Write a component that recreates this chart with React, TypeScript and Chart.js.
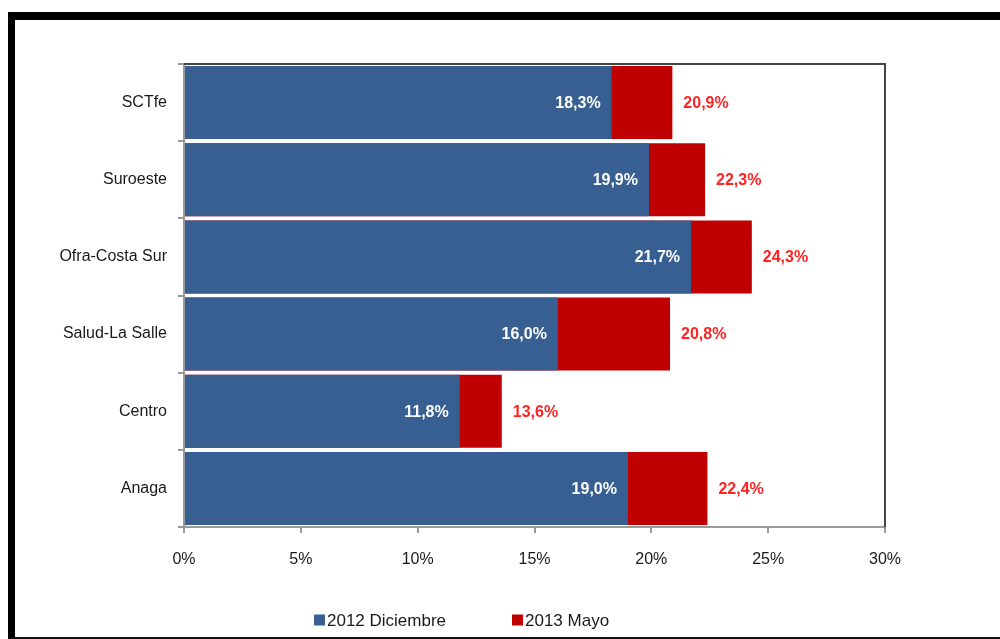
import React, { useEffect, useRef } from "react";
import { Chart, registerables } from "chart.js";

Chart.register(...registerables);

const categories = ["SCTfe", "Suroeste", "Ofra-Costa Sur", "Salud-La Salle", "Centro", "Anaga"];
const serie2012 = [18.3, 19.9, 21.7, 16.0, 11.8, 19.0];
const serie2013 = [20.9, 22.3, 24.3, 20.8, 13.6, 22.4];
const seriesNames = ["2012 Diciembre", "2013 Mayo"];
const xTicks = [0, 5, 10, 15, 20, 25, 30];

const BLUE = "#375F91";
const RED = "#C00000";
const LABEL_RED = "#FF2222";
const FONT = "'Liberation Sans', Arial, sans-serif";

const fmt = (v: number) => v.toFixed(1).replace(".", ",") + "%";

const labelsPlugin = {
  id: "barLabels",
  afterDatasetsDraw(chart: any) {
    const ctx = chart.ctx;
    const a = chart.chartArea;
    // plot frame (top & right)
    ctx.save();
    ctx.strokeStyle = "#444";
    ctx.lineWidth = 2;
    ctx.beginPath();
    ctx.moveTo(a.left, a.top);
    ctx.lineTo(a.right, a.top);
    ctx.lineTo(a.right, a.bottom);
    ctx.stroke();
    ctx.restore();

    const m0 = chart.getDatasetMeta(0);
    const m1 = chart.getDatasetMeta(1);
    ctx.save();
    ctx.font = `bold 16px ${FONT}`;
    ctx.textBaseline = "middle";
    m0.data.forEach((el: any, i: number) => {
      ctx.fillStyle = "#FFFFFF";
      ctx.textAlign = "right";
      ctx.fillText(fmt(serie2012[i]), el.x - 11, el.y + 1);
    });
    m1.data.forEach((el: any, i: number) => {
      ctx.fillStyle = LABEL_RED;
      ctx.textAlign = "left";
      ctx.fillText(fmt(serie2013[i]), el.x + 11, el.y + 1);
    });
    ctx.restore();
  },
  afterDraw(chart: any) {
    const ctx = chart.ctx;
    ctx.save();
    ctx.font = `17px ${FONT}`;
    ctx.textBaseline = "middle";
    ctx.textAlign = "left";
    const items = [
      { x: 314, color: BLUE, text: seriesNames[0] },
      { x: 512, color: RED, text: seriesNames[1] },
    ];
    const cy = 620;
    items.forEach((it) => {
      ctx.fillStyle = it.color;
      ctx.fillRect(it.x, cy - 5.5, 11, 11);
      ctx.fillStyle = "#1a1a1a";
      ctx.fillText(it.text, it.x + 13, cy + 1);
    });
    ctx.restore();
  },
};

export default function App() {
  const ref = useRef<HTMLCanvasElement | null>(null);
  useEffect(() => {
    if (!ref.current) return;
    const chart = new Chart(ref.current, {
      type: "bar",
      data: {
        labels: categories,
        datasets: [
          {
            label: seriesNames[0],
            data: serie2012,
            backgroundColor: BLUE,
            grouped: false,
            categoryPercentage: 1,
            barPercentage: 0.945,
          } as any,
          {
            label: seriesNames[1],
            data: serie2013,
            backgroundColor: RED,
            grouped: false,
            categoryPercentage: 1,
            barPercentage: 0.945,
          } as any,
        ],
      },
      options: {
        indexAxis: "y",
        responsive: false,
        animation: false,
        devicePixelRatio: 1,
        layout: { padding: { top: 64, right: 115, bottom: 72, left: 0 } },
        plugins: {
          legend: { display: false },
          tooltip: { enabled: false },
        },
        scales: {
          x: {
            min: 0,
            max: 30,
            afterFit: (s: any) => {
              s.height = 40;
            },
            afterBuildTicks: (s: any) => {
              s.ticks = xTicks.map((v) => ({ value: v }));
            },
            ticks: {
              callback: (v: any) => v + "%",
              color: "#1a1a1a",
              font: { family: FONT, size: 16 },
              padding: 17,
              maxRotation: 0,
            },
            grid: {
              drawOnChartArea: false,
              drawTicks: true,
              tickLength: 6,
              color: "#999",
              lineWidth: 2,
            },
            border: { display: true, color: "#999", width: 2 },
          },
          y: {
            afterFit: (s: any) => {
              s.width = 184;
            },
            ticks: {
              color: "#1a1a1a",
              font: { family: FONT, size: 16 },
              padding: 11,
            },
            grid: {
              offset: true,
              drawOnChartArea: false,
              drawTicks: true,
              tickLength: 6,
              color: "#999",
              lineWidth: 2,
            },
            border: { display: true, color: "#999", width: 2 },
          },
        },
      },
      plugins: [labelsPlugin],
    });
    return () => chart.destroy();
  }, []);

  return (
    <>
      <canvas
        ref={ref}
        width={1000}
        height={639}
        style={{ position: "fixed", left: 0, top: 0, width: 1000, height: 639, display: "block", background: "#fff" }}
      />
      <div
        style={{
          position: "fixed",
          left: 8,
          top: 12,
          width: 1100,
          height: 627,
          boxSizing: "border-box",
          borderTop: "8px solid #000",
          borderLeft: "7px solid #000",
          borderBottom: "2px solid #111",
          pointerEvents: "none",
        }}
      />
    </>
  );
}
